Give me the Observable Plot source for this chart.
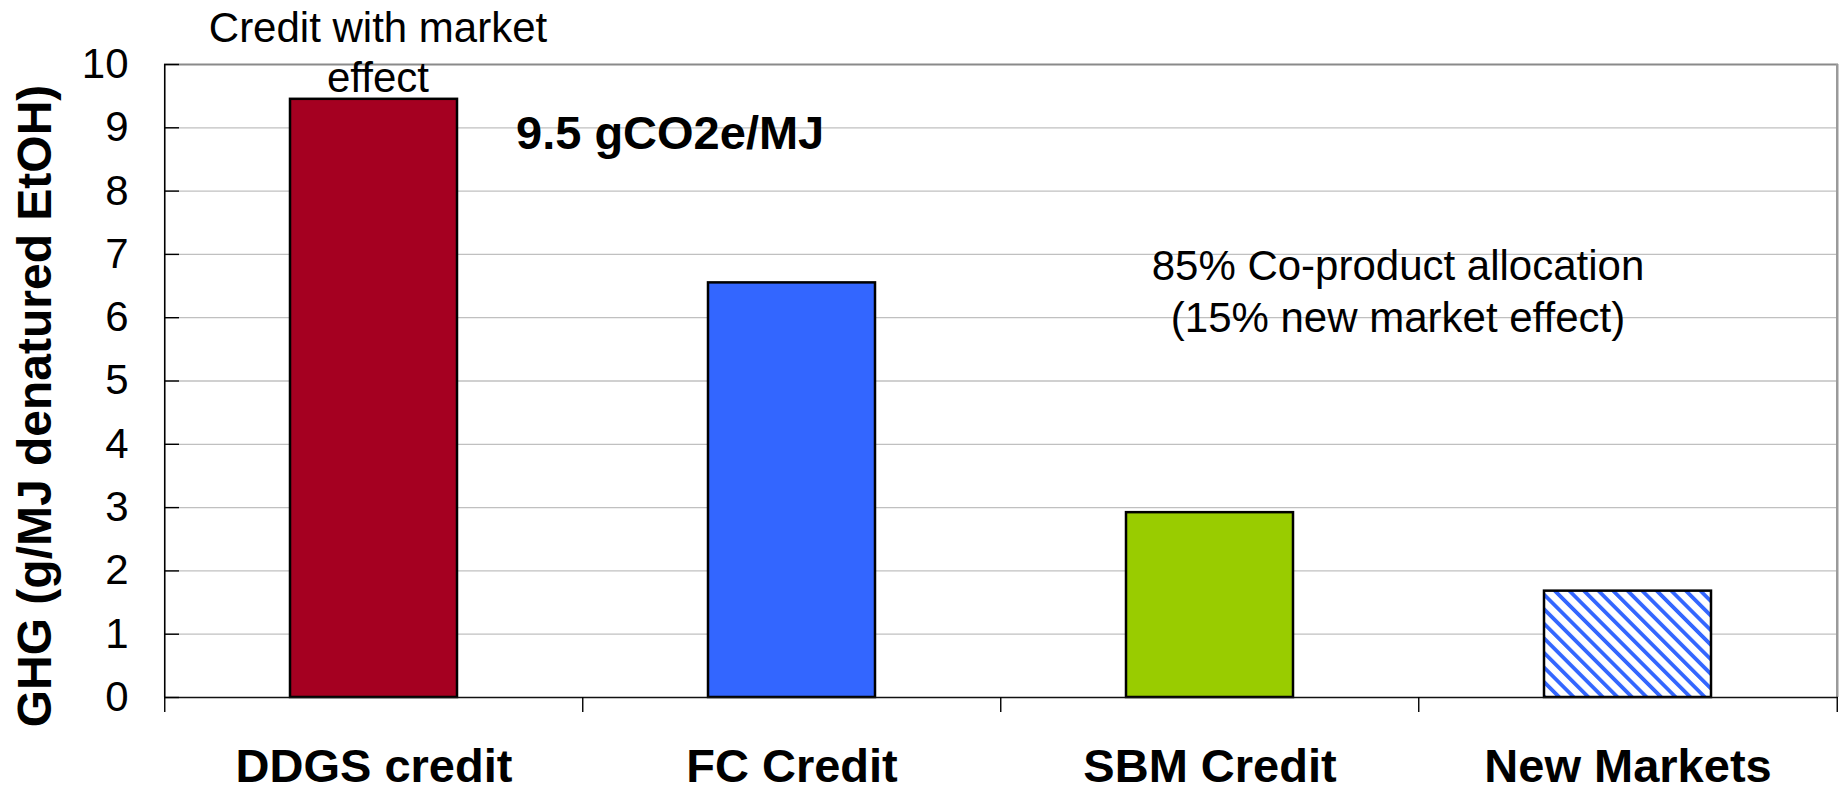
<!DOCTYPE html>
<html>
<head>
<meta charset="utf-8">
<script src="https://cdn.jsdelivr.net/npm/d3@7"></script>
<script src="https://cdn.jsdelivr.net/npm/@observablehq/plot@0.6"></script>
<style>
  html, body { margin: 0; padding: 0; background: #fff; }
  #chart svg { display: block; }
</style>
</head>
<body>
<svg width="0" height="0" style="position:absolute">
  <defs>
    <pattern id="hatch" patternUnits="userSpaceOnUse" width="10.3" height="10.3" patternTransform="rotate(-45)">
      <rect width="10.3" height="10.3" fill="#ffffff"></rect>
      <rect x="0" y="0" width="3.8" height="10.3" fill="#3366ff"></rect>
    </pattern>
  </defs>
</svg>
<div id="chart"></div>
<script>
// ---- data ----
const categories = ["DDGS credit", "FC Credit", "SBM Credit", "New Markets"];
const values = [9.45, 6.55, 2.92, 1.68];
const barColors = ["#a50021", "#3366ff", "#99cc00", "url(#hatch)"];
const yTicks = [0, 1, 2, 3, 4, 5, 6, 7, 8, 9, 10];
const gridValues = [1, 2, 3, 4, 5, 6, 7, 8, 9];
const yLabel = "GHG (g/MJ denatured EtOH)";
const annotationTexts = ["Credit with market\neffect", "9.5 gCO2e/MJ", "85% Co-product allocation\n(15% new market effect)"];
const annotationCategories = ["DDGS credit", "DDGS credit", "SBM Credit"];
const annotationValues = [9.45, 8.66, 5.77];

// ---- layout ----
const W = 1847, H = 790;
const mL = 164, mR = 9, mT = 64, mB = 93;
const step = (W - mL - mR) / categories.length;

const table = categories.map((c, i) => ({category: c, value: values[i], color: barColors[i]}));
const ann = (i) => [{category: annotationCategories[i], value: annotationValues[i], text: annotationTexts[i]}];

const font = "'Liberation Sans', Arial, Helvetica, sans-serif";

const chart = Plot.plot({
  width: W,
  height: H,
  marginLeft: mL,
  marginRight: mR,
  marginTop: mT,
  marginBottom: mB,
  style: {fontFamily: font, background: "#fff", color: "#000", overflow: "visible"},
  x: {type: "band", domain: categories, paddingInner: 0.6, paddingOuter: 0.3, axis: null, label: null},
  y: {domain: [0, 10], axis: null, label: null},
  color: {type: "identity"},
  marks: [
    Plot.ruleY(gridValues, {y: d => d, stroke: "#c0c0c0", strokeWidth: 1.3}),
    Plot.ruleY([10], {y: d => d, stroke: "#8a8a8a", strokeWidth: 2}),
    Plot.ruleX([categories[categories.length - 1]], {x: d => d, dx: step / 2, y1: 0, y2: 10, stroke: "#9a9a9a", strokeWidth: 2.5}),
    Plot.barY(table, {x: "category", y: "value", fill: "color", stroke: "#000", strokeWidth: 2.5}),
    Plot.ruleY([0], {y: d => d, stroke: "#111", strokeWidth: 1.6}),
    Plot.ruleX([categories[0]], {x: d => d, dx: -step / 2, y1: 0, y2: 10, stroke: "#000", strokeWidth: 1.6}),
    // inward y ticks
    Plot.axisY(yTicks, {tickSize: 15, dx: 15, tickFormat: () => "", label: null, stroke: "#000", strokeWidth: 1.4}),
    // y tick labels
    Plot.axisY(yTicks, {tickSize: 0, tickPadding: 36, fontSize: 42, tickFormat: d => String(d), label: null, fill: "#000"}),
    // category boundary ticks
    Plot.axisX(categories, {tickSize: 15, dx: -step / 2, tickFormat: () => "", label: null, stroke: "#000", strokeWidth: 1.4}),
    Plot.axisX([categories[categories.length - 1]], {tickSize: 15, dx: step / 2, tickFormat: () => "", label: null, stroke: "#000", strokeWidth: 1.4}),
    // category labels
    Plot.axisX(categories, {tickSize: 0, tickPadding: 51, fontSize: 47, fontWeight: "bold", label: null, fill: "#000"}),
    // y title
    Plot.text([yLabel], {text: d => d, frameAnchor: "left", textAnchor: "middle", lineAnchor: "middle", rotate: -90, dx: -129, dy: 25, fontSize: 48, fontWeight: "bold", fill: "#000"}),
    // annotations
    Plot.text(ann(0), {x: "category", y: "value", text: "text", dx: 4, dy: -7, lineAnchor: "bottom", lineHeight: 1.2, fontSize: 42, fill: "#000"}),
    Plot.text(ann(1), {x: "category", y: "value", text: "text", dx: 142, textAnchor: "start", lineAnchor: "bottom", fontSize: 47, fontWeight: "bold", fill: "#000"}),
    Plot.text(ann(2), {x: "category", y: "value", text: "text", dx: 188, lineAnchor: "bottom", lineHeight: 1.25, fontSize: 42, fill: "#000"})
  ]
});
document.getElementById("chart").appendChild(chart);
</script>
</body>
</html>
